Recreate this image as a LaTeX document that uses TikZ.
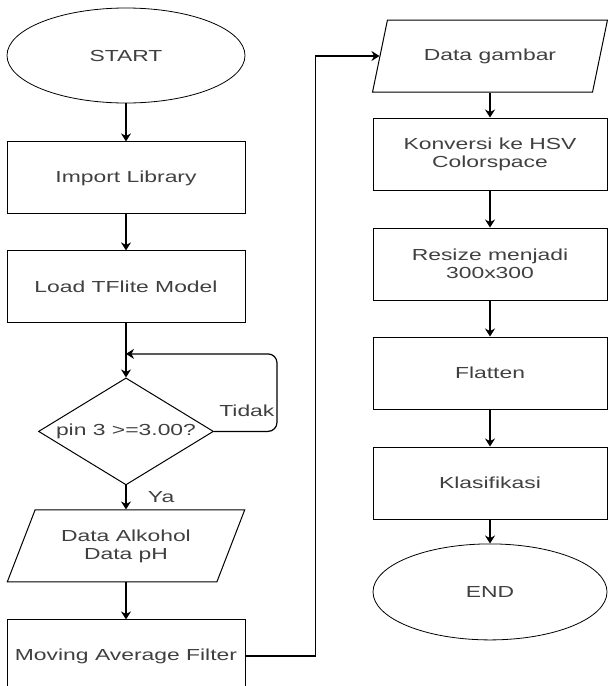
\documentclass[tikz,border=0pt]{standalone}
\usepackage{fontspec}
\setmainfont{Liberation Sans}[FakeStretch=1.43]
\usetikzlibrary{positioning,shapes.geometric,arrows.meta}

\begin{document}
\begin{tikzpicture}[->,>={Stealth[length=8pt,width=10pt]},line width=1.2pt,node distance=36pt,
    every node/.style={font=\fontsize{16}{18}\selectfont,text=black!75},
    terminal/.style={ellipse,draw,line width=0.8pt,minimum width=238pt,minimum height=95pt,inner sep=0pt},
    process/.style={rectangle,draw,line width=1pt,minimum width=238pt,minimum height=72pt,inner sep=1pt,align=center},
    io/.style={trapezium,trapezium left angle=60,trapezium right angle=120,trapezium stretches=true,draw,line width=1pt,minimum width=238pt,minimum height=72pt,inner sep=1pt,align=center},
    decision/.style={diamond,draw,line width=1pt,minimum width=175pt,minimum height=107pt,inner sep=0pt}]
    \useasboundingbox (0,0) rectangle (608pt,-686pt);

    % left column
    \node[terminal] (start) at (126pt,-55.5pt) {START};
    \node[process] (import) [below=38pt of start] {Import Library};
    \node[process] (load) [below=of import] {Load TFlite Model};
    \node[decision, label=center:{pin 3 >=3.00?}] (cek) [below=54pt of load] {};
    \node[io] (sensor) [below=24pt of cek] {Data Alkohol\\Data pH};
    \node[process] (filter) [below=37pt of sensor] {Moving Average Filter};
    \coordinate[below=30.5pt of load.south] (balik);

    % right column
    \node[io, minimum width=235pt] (gambar) at (490pt,-56pt) {Data gambar};
    \node[process, minimum width=234pt] (hsv) [below=25pt of gambar] {Konversi ke HSV\\Colorspace};
    \node[process, minimum width=234pt] (resize) [below=37pt of hsv] {Resize menjadi\\300x300};
    \node[process, minimum width=234pt] (flatten) [below=of resize] {Flatten};
    \node[process, minimum width=234pt] (klas) [below=37pt of flatten] {Klasifikasi};
    \node[terminal, minimum width=234pt, minimum height=96pt] (end) [below=24pt of klas] {END};

    \draw (start.south) -- (import.north);
    \draw (import.south) -- (load.north);
    \draw (load.south) -- (cek.north);
    \draw[rounded corners=9pt] (cek.east) -- ++(63pt,0) node[above left, inner sep=2pt, yshift=12pt] {Tidak} |- (balik);
    \draw (cek.south) -- (sensor.north) node[midway, right=18pt] {Ya};
    \draw (sensor.south) -- (filter.north);
    \draw (filter.east) -- ++(70pt,0) |- (gambar.west);
    \draw (gambar.south) -- (hsv.north);
    \draw (hsv.south) -- (resize.north);
    \draw (resize.south) -- (flatten.north);
    \draw (flatten.south) -- (klas.north);
    \draw (klas.south) -- (end.north);
\end{tikzpicture}
\end{document}
